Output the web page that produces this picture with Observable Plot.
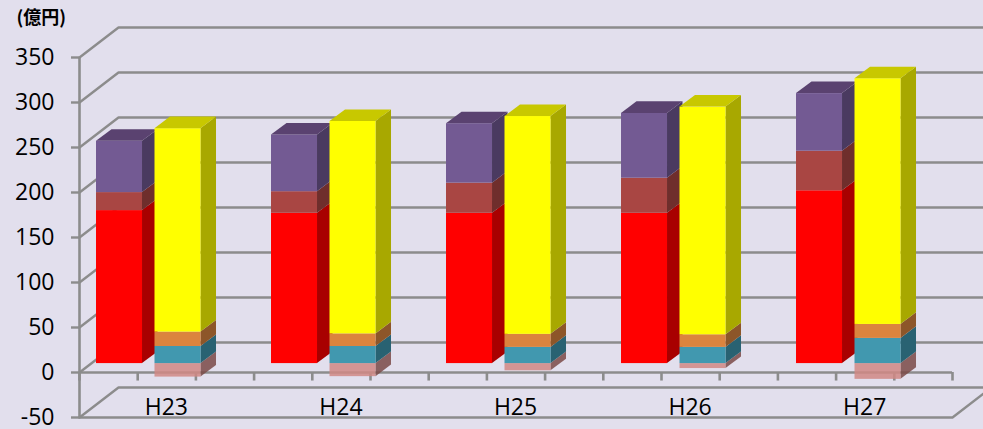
<!DOCTYPE html>
<html>
<head>
<meta charset="utf-8">
<script src="https://cdn.jsdelivr.net/npm/d3@7"></script>
<script src="https://cdn.jsdelivr.net/npm/@observablehq/plot@0.6"></script>
<style>
html,body{margin:0;padding:0;background:#e2dfed;overflow:hidden}
svg{display:block}
</style>
</head>
<body>
<div id="chart"></div>
<script>
const categories = ["H23", "H24", "H25", "H26", "H27"];
const yTicks = [-50, 0, 50, 100, 150, 200, 250, 300, 350];
const unitLabel = "(億円)";

// left column, stacked upward
const red    = [170, 167, 167, 167, 192];
const brick  = [20, 24, 33.5, 39, 44];
const purple = [57, 63, 66, 72, 64];
// right column: pink hangs below zero, the rest stack upward
const pink   = [15, 14.5, 8, 5.5, 17.5];
const teal   = [19, 19, 18, 18, 28];
const orange = [16, 14, 14.5, 14, 15.5];
const yellow = [226, 236, 242, 253, 273];

const colors = {
  red:    {front: "#ff0000", side: "#a80000", top: "#c80000"},
  brick:  {front: "#a94643", side: "#6f2e2c", top: "#85352f"},
  purple: {front: "#735a93", side: "#4a3a60", top: "#5a4270"},
  pink:   {front: "#d08884", side: "#7a4a47", top: "#a06a68", opacity: 0.85},
  teal:   {front: "#4198af", side: "#296272", top: "#32788a"},
  orange: {front: "#db843e", side: "#8d5629", top: "#a86a30"},
  yellow: {front: "#ffff00", side: "#a8a800", top: "#c8c800"}
};

// chart-space depth of the wall and of the columns, in scale units
const wallDX = 0.2234, wallDY = 33.3;
const barDX = 0.0888, barDY = 12.9;
const planeY = 9.9;
const barW = 0.2635, leftOff = 0.0974, rightOff = 0.4324, step = 1.0023;
const line = "#8c8c8c";
const xMax = categories.length;

const marks = [];

// walls
for (const v of yTicks) {
  marks.push(Plot.line([[0, v], [wallDX, v + wallDY], [xMax + wallDX, v + wallDY]],
    {x: d => d[0], y: d => d[1], stroke: line, strokeWidth: 2.4}));
}
marks.push(Plot.line([[0, -50], [xMax, -50], [xMax + wallDX, -50 + wallDY]],
  {x: d => d[0], y: d => d[1], stroke: line, strokeWidth: 2.4}));
marks.push(Plot.ruleY([0], {x1: 0, x2: xMax, stroke: line, strokeWidth: 2.6}));
marks.push(Plot.ruleX([0], {y1: -50, y2: 350, stroke: line, strokeWidth: 2.6}));
marks.push(Plot.ruleX(d3.range(0, xMax * 3 + 1).map(k => k / 3), {y1: 0, y2: -9.5, stroke: line, strokeWidth: 2.6}));

function segment(x0, lo, hi, c, withTop) {
  const x1 = x0 + barW;
  const o = c.opacity ?? 1;
  marks.push(Plot.areaY([[x1, lo, hi], [x1 + barDX, lo + barDY, hi + barDY]],
    {x: d => d[0], y1: d => d[1], y2: d => d[2], fill: c.side, fillOpacity: o, curve: "linear"}));
  marks.push(Plot.rect([[x0, x1, lo, hi]],
    {x1: d => d[0], x2: d => d[1], y1: d => d[2], y2: d => d[3], fill: c.front, fillOpacity: o, inset: 0}));
  if (withTop) {
    marks.push(Plot.areaX([[hi, x0, x1], [hi + barDY, x0 + barDX, x1 + barDX]],
      {y: d => d[0], x1: d => d[1], x2: d => d[2], fill: c.top, curve: "linear"}));
  }
}

categories.forEach((_, i) => {
  const lx = i * step + leftOff, rx = i * step + rightOff;
  let b = planeY;
  segment(lx, b, b + red[i], colors.red, false); b += red[i];
  segment(lx, b, b + brick[i], colors.brick, false); b += brick[i];
  segment(lx, b, b + purple[i], colors.purple, true);
  b = planeY;
  segment(rx, b - pink[i], b, colors.pink, false);
  segment(rx, b, b + teal[i], colors.teal, false); b += teal[i];
  segment(rx, b, b + orange[i], colors.orange, false); b += orange[i];
  segment(rx, b, b + yellow[i], colors.yellow, true);
});

marks.push(Plot.axisY(yTicks, {
  anchor: "left", label: null, tickSize: 8, tickPadding: 17,
  stroke: line, strokeWidth: 2.4, fill: "#000",
  tickFormat: d => String(d),
  fontSize: 23, fontFamily: "Open Sans"
}));
marks.push(Plot.text(categories, {
  x: (d, i) => i + 0.5, y: -38.5, text: d => d, dx: -0.5,
  fontSize: 23, fontFamily: "Open Sans", fill: "#000"
}));
marks.push(Plot.text([unitLabel], {
  frameAnchor: "top-left", dx: -63, dy: -46, text: d => d, textAnchor: "start",
  lineAnchor: "top", fontSize: 18, fontWeight: "bold",
  fontFamily: "Noto Sans CJK JP", fill: "#000"
}));

const chart = Plot.plot({
  width: 983, height: 429,
  marginLeft: 79, marginRight: 31, marginTop: 57, marginBottom: 12,
  x: {domain: [0, xMax], axis: null},
  y: {domain: [-50, 350], axis: null},
  style: {background: "#e2dfed", overflow: "hidden"},
  marks
});
document.getElementById("chart").appendChild(chart);
</script>
</body>
</html>
